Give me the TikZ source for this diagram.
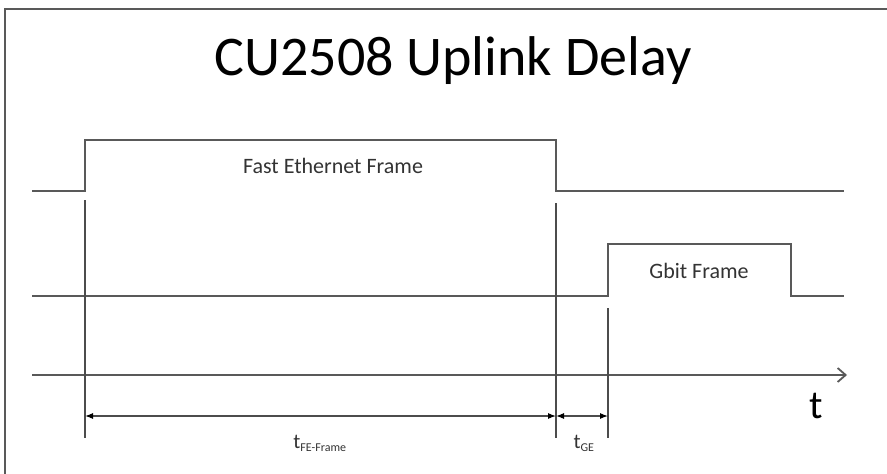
\documentclass[tikz,border=0pt]{standalone}
\usepackage{fontspec}
\setmainfont{Carlito}
\usetikzlibrary{arrows.meta}
\begin{document}
\begin{tikzpicture}[x=1pt,y=-1pt,
  sig/.style={draw=black!65,line width=1.8pt},
  guide/.style={draw=black!70,line width=1.1pt},
  dim/.style={draw=black!70,line width=1.1pt,{Latex[length=8pt,width=6pt,black]}-{Latex[length=8pt,width=6pt,black]}},
  lbl/.style={inner sep=0pt,text=black!80},
  ]
\useasboundingbox (0,0) rectangle (887,474);
\draw[draw=black!65,line width=1.6pt] (5,474) -- (5,9) -- (887,9);
\node[lbl,font=\fontsize{56}{56}\selectfont,text=black] (title) at (453,61) {CU2508 Uplink Delay};
% top signal
\coordinate (a0) at (32,191);
\coordinate (a1) at (85,191);
\coordinate (a2) at (85,140);
\coordinate (a3) at (556,140);
\coordinate (a4) at (556,191);
\coordinate (a5) at (844,191);
\draw[sig] (a0) -- (a1) -- (a2) -- (a3) -- (a4) -- (a5);
\node[lbl,font=\fontsize{22}{22}\selectfont] (fe) at (333,166) {Fast Ethernet Frame};
% second signal
\coordinate (b0) at (32,296);
\coordinate (b1) at (608,296);
\coordinate (b2) at (608,244);
\coordinate (b3) at (791,244);
\coordinate (b4) at (791,296);
\coordinate (b5) at (844,296);
\draw[sig] (b0) -- (b1) -- (b2) -- (b3) -- (b4) -- (b5);
\node[lbl,font=\fontsize{22}{22}\selectfont] (ge) at (699,271) {Gbit Frame};
% time axis
\coordinate (t0) at (32,375);
\coordinate (t1) at (847,375);
\draw[sig,-{Straight Barb[length=8pt,width=14pt]}] (t0) -- (t1);
\node[lbl,font=\fontsize{40}{40}\selectfont,text=black] (tl) at (816,406) {t};
% guides
\coordinate (g1t) at (85,200);
\coordinate (g1b) at (85,438);
\coordinate (g2t) at (556,203);
\coordinate (g2b) at (556,438);
\coordinate (g3t) at (608,308);
\coordinate (g3b) at (608,438);
\draw[guide] (g1t) -- (g1b);
\draw[guide] (g2t) -- (g2b);
\draw[guide] (g3t) -- (g3b);
% dimensions
\coordinate (d1) at (85,416);
\coordinate (d2) at (556,416);
\coordinate (d3) at (608,416);
\draw[dim] (d1) -- (d2);
\draw[dim] (d2) -- (d3);
\node[lbl,font=\fontsize{21}{21}\selectfont] (tfe) at (320,443) {t\textsubscript{\fontsize{12}{12}\selectfont FE-Frame}};
\node[lbl,font=\fontsize{21}{21}\selectfont] (tge) at (584,443) {t\textsubscript{\fontsize{12}{12}\selectfont GE}};
\end{tikzpicture}
\end{document}
